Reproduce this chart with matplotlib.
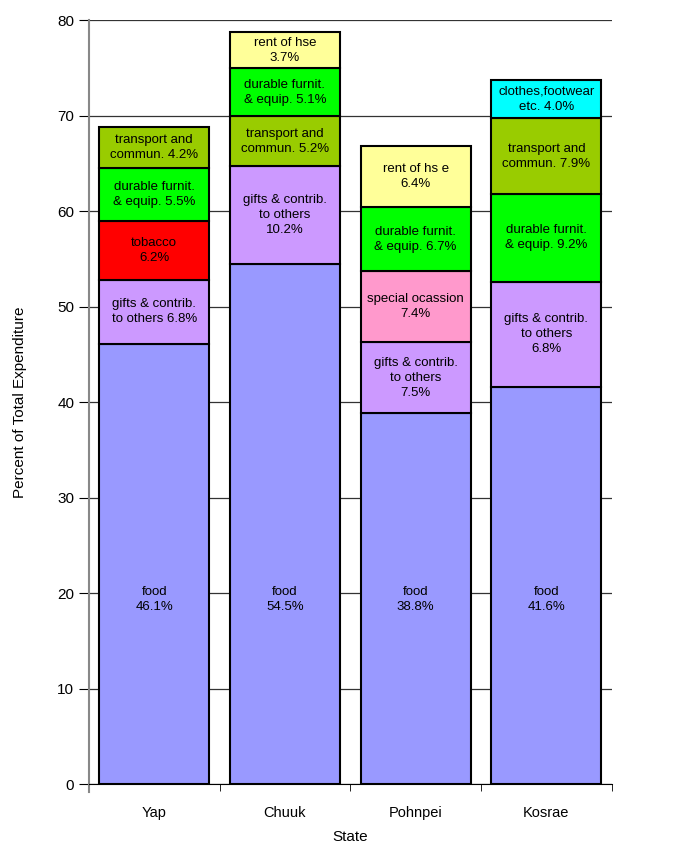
import numpy as np
import matplotlib.pyplot as plt

plt.rcParams['font.family'] = ['Liberation Sans', 'DejaVu Sans']

states = ['Yap', 'Chuuk', 'Pohnpei', 'Kosrae']

# segments from bottom to top for each state (drawn height, label text, colour key)
yap_vals = [46.1, 6.7, 6.2, 5.5, 4.3]
yap_cats = ['food', 'gifts', 'tobacco', 'durable', 'transport']
yap_text = ['food\n46.1%', 'gifts & contrib.\nto others 6.8%', 'tobacco\n6.2%',
            'durable furnit.\n& equip. 5.5%', 'transport and\ncommun. 4.2%']

chuuk_vals = [54.5, 10.2, 5.2, 5.1, 3.7]
chuuk_cats = ['food', 'gifts', 'transport', 'durable', 'rent']
chuuk_text = ['food\n54.5%', 'gifts & contrib.\nto others\n10.2%', 'transport and\ncommun. 5.2%',
              'durable furnit.\n& equip. 5.1%', 'rent of hse\n3.7%']

pohnpei_vals = [38.8, 7.5, 7.4, 6.7, 6.4]
pohnpei_cats = ['food', 'gifts', 'special', 'durable', 'rent']
pohnpei_text = ['food\n38.8%', 'gifts & contrib.\nto others\n7.5%', 'special ocassion\n7.4%',
                'durable furnit.\n& equip. 6.7%', 'rent of hs e\n6.4%']

kosrae_vals = [41.6, 11.0, 9.2, 7.9, 4.0]
kosrae_cats = ['food', 'gifts', 'durable', 'transport', 'clothes']
kosrae_text = ['food\n41.6%', 'gifts & contrib.\nto others\n6.8%', 'durable furnit.\n& equip. 9.2%',
               'transport and\ncommun. 7.9%', 'clothes,footwear\netc. 4.0%']

colors = {'food': '#9999FF', 'gifts': '#CC99FF', 'tobacco': '#FF0000',
          'durable': '#00FF00', 'transport': '#99CC00', 'rent': '#FFFF99',
          'special': '#FF99CC', 'clothes': '#00FFFF'}

all_vals = [yap_vals, chuuk_vals, pohnpei_vals, kosrae_vals]
all_cats = [yap_cats, chuuk_cats, pohnpei_cats, kosrae_cats]
all_text = [yap_text, chuuk_text, pohnpei_text, kosrae_text]

fig = plt.figure(figsize=(6.73, 8.52), dpi=100)
ax = fig.add_axes([0.132, 0.0798, 0.777, 0.8967])

width = 0.84
for i in range(len(states)):
    bottom = 0
    for v, c, t in zip(all_vals[i], all_cats[i], all_text[i]):
        ax.bar(i, v, width, bottom=bottom, color=colors[c], edgecolor='black',
               linewidth=1.5, zorder=3)
        ty = 19.3 if c == 'food' else bottom + v / 2
        ax.text(i, ty, t, ha='center', va='center', fontsize=9.5, zorder=4,
                linespacing=1.35)
        bottom += v

ax.set_xlim(-0.5, 3.5)
ax.set_ylim(0, 80)
ax.set_yticks(np.arange(0, 81, 10))
ax.yaxis.grid(True, color='#333333', linewidth=0.9, zorder=0)
ax.set_xticks(range(4))
ax.set_xticklabels(states, fontsize=10.5)
ax.set_xticks(np.arange(-0.5, 4, 1), minor=True)
ax.tick_params(axis='x', which='major', length=0, pad=16)
ax.tick_params(axis='x', which='minor', length=5, direction='out')
ax.tick_params(axis='y', length=7, labelsize=11, direction='out')
for s in ['top', 'right']:
    ax.spines[s].set_visible(False)
ax.spines['left'].set_color('#888888')
ax.spines['left'].set_linewidth(1.5)
ax.spines['left'].set_bounds(-0.8, 80)
ax.set_xlabel('State', fontsize=11, labelpad=7)
ax.set_ylabel('Percent of Total Expenditure', fontsize=11, labelpad=22)

fig.savefig('out.png', dpi=100)
